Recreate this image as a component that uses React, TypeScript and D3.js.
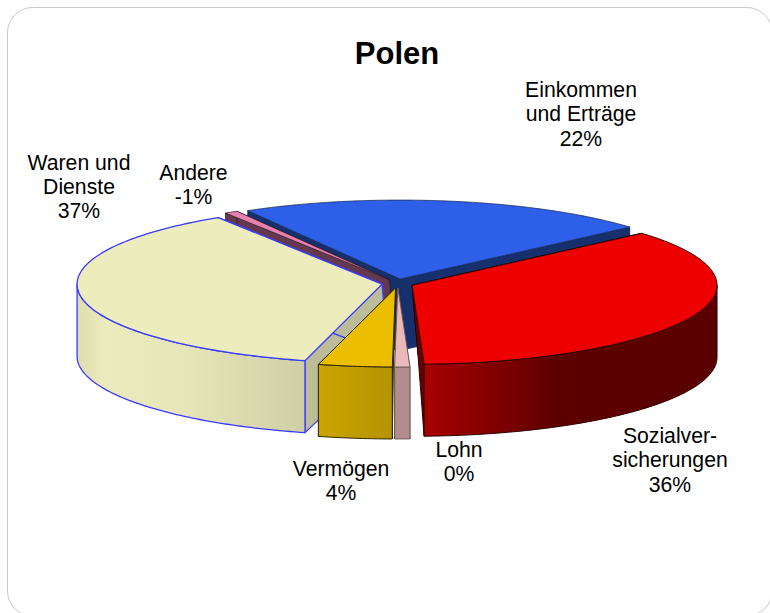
import { useMemo } from 'react'
import * as d3 from 'd3'

// values (shares of the whole, abs value for the negative one)
const categories = ['Einkommen', 'Sozialversicherungen', 'Lohn', 'Vermögen', 'Waren', 'Andere']
const shares = [21.9, 35.8, 0.8, 3.9, 36.9, 0.7]
const labelLines = [
  ['Einkommen', 'und Erträge', '22%'],
  ['Sozialver-', 'sicherungen', '36%'],
  ['Lohn', '0%'],
  ['Vermögen', '4%'],
  ['Waren und', 'Dienste', '37%'],
  ['Andere', '-1%'],
]

const WIDTH = 770
const HEIGHT = 613
const cx = 397.6
const cy = 283.5
const rx = 305
const ry = 79
const depth = 72
const explodeX = 15.7
const explodeY = 4.5
const startDeg = -30

const styles: Record<string, { top: string; cut: string; stroke: string; wall: [number, string][]; width: number; skew: number }> = {
  Einkommen: { top: '#2e5fe9', cut: '#16306e', stroke: '#14264f', wall: [[0, '#16306e']], width: 0.7, skew: 6 },
  Sozialversicherungen: {
    top: '#ee0000',
    cut: '#6a0000',
    stroke: '#2a0000',
    wall: [[0, '#a80000'], [0.45, '#5e0000'], [1, '#5a0000']],
    width: 1,
    skew: 6,
  },
  Lohn: { top: '#ebb9b9', cut: '#b38d8d', stroke: '#5a5050', wall: [[0, '#b38d8d'], [1, '#b38d8d']], width: 0.8, skew: 0 },
  Vermögen: {
    top: '#ecbe00',
    cut: '#b39400',
    stroke: '#2e2600',
    wall: [[0, '#cba500'], [1, '#b39300']],
    width: 1,
    skew: -2,
  },
  Waren: {
    top: '#edecbc',
    cut: '#bdbc98',
    stroke: '#3a3aff',
    wall: [[0, '#dedcb0'], [0.12, '#ecebbd'], [0.5, '#e6e5b7'], [1, '#cfcea6']],
    width: 1.3,
    skew: 6,
  },
  Andere: { top: '#e77fb0', cut: '#63394f', stroke: '#2a1a22', wall: [[0, '#63394f']], width: 0.7, skew: 6 },
}

// painter's order, back to front
const drawOrder = ['Einkommen', 'Andere', 'Waren', 'Sozialversicherungen', 'Lohn', 'Vermögen']

const labelAnchors: Record<string, { x: number; y: number }> = {
  Einkommen: { x: 581, y: 97 },
  Sozialversicherungen: { x: 670, y: 443 },
  Lohn: { x: 459, y: 457 },
  Vermögen: { x: 341, y: 476 },
  Waren: { x: 79, y: 169.5 },
  Andere: { x: 193.5, y: 179.5 },
}

export default function App() {
  const slices = useMemo(() => {
    const pie = d3
      .pie<number>()
      .sort(null)
      .startAngle((startDeg * Math.PI) / 180)
      .endAngle(((startDeg + 360) * Math.PI) / 180)
    return pie(shares).map((arc, i) => {
      const mid = (arc.startAngle + arc.endAngle) / 2
      return {
        key: categories[i],
        lines: labelLines[i],
        a0: arc.startAngle,
        a1: arc.endAngle,
        ax: cx + explodeX * Math.sin(mid),
        ay: cy - explodeY * Math.cos(mid),
      }
    })
  }, [])

  const rim = (ax: number, ay: number, a: number): [number, number] => [
    ax + rx * Math.sin(a),
    ay - ry * Math.cos(a),
  ]

  const sample = (ax: number, ay: number, a0: number, a1: number, dy = 0) => {
    const n = Math.max(2, Math.ceil(((a1 - a0) * 180) / Math.PI))
    return d3.range(n + 1).map(k => {
      const [x, y] = rim(ax, ay, a0 + ((a1 - a0) * k) / n)
      return [x, y + dy] as [number, number]
    })
  }

  const line = d3.line()

  return (
    <svg
      width={WIDTH}
      height={HEIGHT}
      style={{ position: 'fixed', left: 0, top: 0, background: '#fff' }}
      fontFamily="'Liberation Sans', Arial, sans-serif"
    >
      <defs>
        {slices.map(s => {
          const st = styles[s.key]
          const wa0 = Math.max(s.a0, Math.PI / 2)
          const wa1 = Math.min(s.a1, (3 * Math.PI) / 2)
          const xs = wa0 < wa1 ? d3.extent(sample(s.ax, s.ay, wa0, wa1), p => p[0]) : [0, 1]
          return (
            <linearGradient
              key={s.key}
              id={`wall-${s.key}`}
              gradientUnits="userSpaceOnUse"
              x1={xs[0]}
              x2={xs[1]}
              y1={0}
              y2={0}
            >
              {st.wall.map(([o, c]) => (
                <stop key={o} offset={o} stopColor={c} />
              ))}
            </linearGradient>
          )
        })}
      </defs>

      <rect x={7.5} y={7.5} width={764.5} height={608.5} rx={25} fill="#fff" stroke="#c9c9c9" strokeWidth={1} />

      {drawOrder.map(key => {
        const s = slices.find(d => d.key === key)!
        const st = styles[key]
        const apexTop: [number, number] = [s.ax, s.ay]
        const apexLow: [number, number] = [s.ax + st.skew, s.ay + depth - 2]
        const faces = [s.a0, s.a1].map(a => {
          const [x, y] = rim(s.ax, s.ay, a)
          return line([apexTop, [x, y], [x, y + depth], apexLow]) + 'Z'
        })
        const wa0 = Math.max(s.a0, Math.PI / 2)
        const wa1 = Math.min(s.a1, (3 * Math.PI) / 2)
        const upper = wa0 < wa1 ? sample(s.ax, s.ay, wa0, wa1) : []
        const lower = wa0 < wa1 ? sample(s.ax, s.ay, wa0, wa1, depth).reverse() : []
        const topPath = line([apexTop, ...sample(s.ax, s.ay, s.a0, s.a1)]) + 'Z'
        return (
          <g key={key} strokeLinejoin="round">
            {faces.map((d, i) => (
              <path key={i} d={d} fill={st.cut} stroke={st.stroke} strokeWidth={st.width} />
            ))}
            {upper.length > 0 && (
              <path
                d={line([...upper, ...lower]) + 'Z'}
                fill={`url(#wall-${key})`}
                stroke={st.stroke}
                strokeWidth={st.width}
              />
            )}
            <path d={topPath} fill={st.top} stroke={st.stroke} strokeWidth={st.width} />
          </g>
        )
      })}

      <text x={397} y={64} textAnchor="middle" fontSize={31} fontWeight="bold" fill="#000">
        Polen
      </text>

      {slices.map(s => {
        const pos = labelAnchors[s.key]
        return (
          <text key={s.key} textAnchor="middle" fontSize={21.2} fill="#000">
            {s.lines.map((t, i) => (
              <tspan key={i} x={pos.x} y={pos.y + i * 24.4}>
                {t}
              </tspan>
            ))}
          </text>
        )
      })}
    </svg>
  )
}
